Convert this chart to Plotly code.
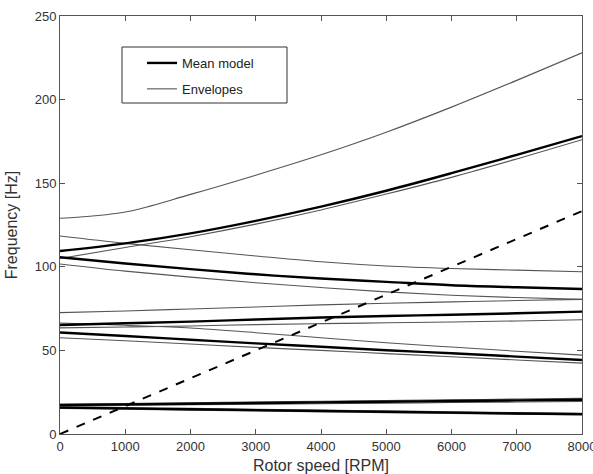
import plotly.graph_objects as go

rpm = [0, 1000, 2000, 3000, 4000, 5000, 6000, 7000, 8000]

# Forward whirl mode (rising, high)
fw_upper = [129, 132.8, 143.3, 154.8, 167, 180.5, 195.5, 211.5, 228]
fw_mean = [109.4, 114, 120, 127.5, 136, 145.5, 156, 167, 178.2]
fw_lower = [105, 111.5, 118, 125.5, 134, 143.5, 153.5, 164.5, 176]

# Backward whirl mode (falling, ~100 Hz)
bw_upper = [118.4, 114, 110.2, 106.5, 103, 100.5, 99, 98, 97]
bw_mean = [105.7, 102, 98.6, 95.5, 93, 91, 89, 87.8, 86.7]
bw_lower = [101.7, 97.4, 93.8, 90.5, 87.6, 85, 83, 81.6, 80.5]

# Rising mode (~70 Hz)
r2_upper = [72.6, 73.6, 74.8, 76, 77.2, 78.2, 79, 79.8, 80.5]
r2_mean = [65.2, 66.2, 67.2, 68.5, 69.7, 70.6, 71.3, 72.2, 73.2]
r2_lower = [63.5, 64, 64.6, 65.4, 66, 66.5, 67, 67.6, 68.3]

# Falling mode (~55 Hz)
f2_upper = [66.4, 65, 63.4, 60.6, 57.6, 54.6, 52, 49.5, 47.2]
f2_mean = [60.7, 58.6, 56.4, 54.2, 52.2, 50.1, 48.3, 46.3, 44.3]
f2_lower = [57.6, 55.8, 53.8, 51.8, 50, 48.1, 46.2, 44.3, 42.4]

# Low modes (~12-21 Hz)
l1_upper = [17.8, 18.2, 18.7, 19.1, 19.6, 20.0, 20.4, 20.9, 21.3]
l1_mean = [17.3, 17.7, 18.1, 18.5, 18.9, 19.3, 19.7, 20.1, 20.5]
l1_lower = [16.8, 17.1, 17.5, 17.8, 18.1, 18.4, 18.8, 19.1, 19.4]
l2_upper = [16.3, 15.8, 15.3, 14.8, 14.3, 13.8, 13.3, 12.8, 12.4]
l2_mean = [15.8, 15.3, 14.8, 14.3, 13.8, 13.3, 12.8, 12.3, 11.9]
l2_lower = [15.3, 14.8, 14.3, 13.8, 13.3, 12.8, 12.3, 11.8, 11.4]

# 1x excitation line
exc_rpm = [0, 8000]
exc_hz = [0, 133.3]

means = [fw_mean, bw_mean, r2_mean, f2_mean, l1_mean, l2_mean]
envs = [fw_upper, fw_lower, bw_upper, bw_lower, r2_upper, r2_lower,
        f2_upper, f2_lower, l1_upper, l1_lower, l2_upper, l2_lower]

FONT = "Liberation Sans, Arial, sans-serif"
fig = go.Figure()

for i, e in enumerate(envs):
    fig.add_trace(go.Scatter(
        x=rpm, y=e, mode="lines", name="Envelopes",
        line=dict(color="#555555", width=1.1, shape="spline", smoothing=1.0),
        legendgroup="env", showlegend=(i == 0), legendrank=2))

for i, m in enumerate(means):
    fig.add_trace(go.Scatter(
        x=rpm, y=m, mode="lines", name="Mean model",
        line=dict(color="black", width=2.4, shape="spline", smoothing=1.0),
        legendgroup="mean", showlegend=(i == 0), legendrank=1))

fig.add_trace(go.Scatter(
    x=exc_rpm, y=exc_hz, mode="lines", showlegend=False,
    line=dict(color="black", width=2, dash="dash")))

axis_common = dict(
    showline=True, linecolor="#555555", linewidth=1, mirror="ticks",
    ticks="inside", ticklen=5, tickcolor="#555555", showgrid=False,
    zeroline=False, ticklabeloverflow="allow", automargin=False,
    tickfont=dict(family=FONT, size=13, color="#333333"))

fig.update_layout(
    width=593, height=474,
    margin=dict(l=60, r=11, t=16, b=40),
    paper_bgcolor="white", plot_bgcolor="white",
    font=dict(family=FONT, size=13, color="#333333"),
    xaxis=dict(range=[0, 8000], tickvals=[0, 1000, 2000, 3000, 4000, 5000, 6000, 7000, 8000],
               title=dict(text="Rotor speed [RPM]", standoff=13,
                          font=dict(family=FONT, size=16, color="#333333")),
               **axis_common),
    yaxis=dict(range=[0, 250], tickvals=[0, 50, 100, 150, 200, 250],
               title=dict(text="Frequency [Hz]", standoff=13,
                          font=dict(family=FONT, size=16, color="#333333")),
               **axis_common),
    legend=dict(x=(142 - 60) / 522, y=(434 - 48) / 418, xanchor="left", yanchor="top",
                borderwidth=0, bgcolor="rgba(0,0,0,0)",
                font=dict(family=FONT, size=13, color="#222222"),
                tracegroupgap=6, itemwidth=30),
    shapes=[dict(type="rect", xref="paper", yref="paper",
                 x0=(122 - 60) / 522, x1=(287 - 60) / 522,
                 y0=(434 - 103) / 418, y1=(434 - 47) / 418,
                 line=dict(color="#333333", width=1), fillcolor="white", layer="above")],
)

fig.write_html("out.html")
